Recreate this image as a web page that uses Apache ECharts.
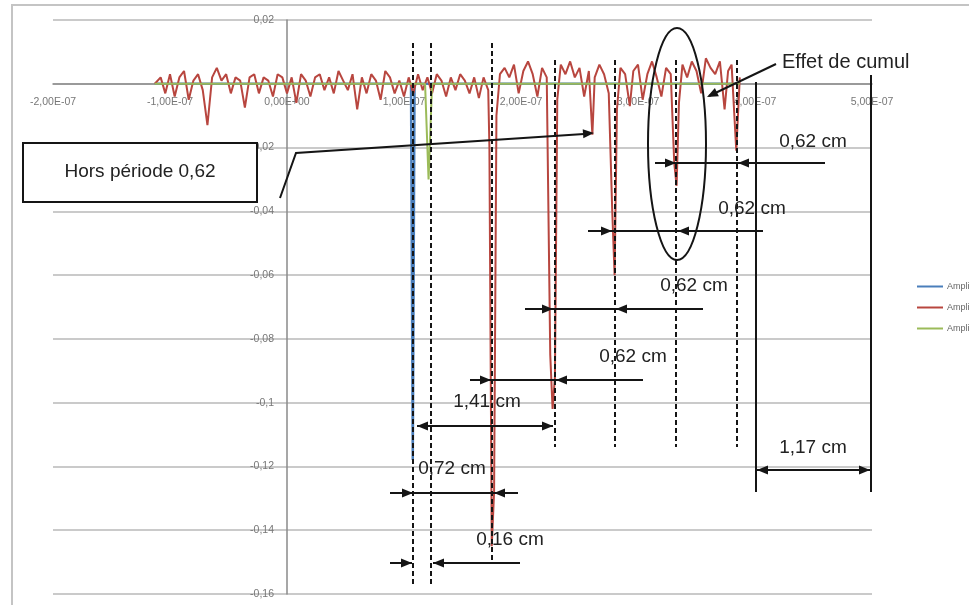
<!DOCTYPE html>
<html><head><meta charset="utf-8">
<script src="https://cdn.jsdelivr.net/npm/echarts@6/dist/echarts.min.js"></script>
<style>html,body{margin:0;padding:0;background:#fff}#c{width:969px;height:605px}</style>
</head><body><div id="c"></div>
<script>
// ---------- data (time in ns, amplitude in V) ----------
const seriesNames = ['Amplitude 1', 'Amplitude 2', 'Amplitude 3'];

const blueT = [-113, 106, 107.5, 109, 387];
const blueV = [0, 0, -0.118, 0, 0];

const redT = [-113,-108,-104,-100,-96,-92,-88,-84,-80,-76,-72,-68,-64,-60,-56,-52,-48,-44,-40,-36,-32,-28,-24,-20,-16,-12,-8,-4,
  0,4,8,12,16,20,24,28,32,36,40,44,48,52,56,60,64,68,72,76,80,84,88,92,96,100,104,108,112,116,120,124,128,132,136,140,144,148,152,156,160,164,168,172,
  173,175,177,179,182,186,190,194,198,202,206,210,214,218,222,225,227,229,231,234,238,242,246,250,254,258,261,263,267,271,275,278,280,282,285,289,293,296,300,
  304,308,312,316,320,324,328,331,333,335,338,342,346,350,354,358,362,366,370,374,377,380,384,387];
const redV = [0,0.002,-0.003,0.003,-0.004,0.002,0.004,-0.005,0.001,0.003,-0.002,-0.013,0.002,0.005,0.001,0.003,-0.003,0.002,0.001,-0.0075,0.002,0.003,-0.003,0.002,0.001,-0.004,0.003,0.002,
  -0.003,0.002,-0.006,0.003,0.001,-0.004,0.002,0.003,-0.002,0.002,-0.003,0.004,0.001,-0.002,0.003,-0.008,0.002,-0.003,0.003,0.001,-0.005,0.004,0.002,-0.003,0.001,-0.004,0.002,-0.003,0.003,-0.002,0.002,-0.003,0.003,0.001,-0.004,0.002,-0.002,0.003,0.001,-0.003,0.002,-0.0045,0.002,-0.002,
  -0.02,-0.145,-0.128,-0.01,0.003,0.005,0.002,0.006,-0.003,0.004,0.007,0.003,-0.004,0.005,0.002,-0.085,-0.102,-0.092,-0.005,0.006,0.003,0.007,0.002,0.005,-0.004,0.004,-0.016,0.002,0.006,0.003,-0.003,-0.04,-0.06,-0.008,0.005,0.003,-0.007,0.004,0.006,
  -0.005,0.003,0.007,0.002,-0.004,0.005,0.003,-0.025,-0.032,-0.006,0.006,0.002,0.007,0.004,-0.003,0.008,0.005,0.003,0.007,-0.008,0.004,0.006,-0.021,0.002];

const greenT = [-113, 118, 121, 124, 387];
const greenV = [0, 0, -0.030, 0, 0];

const yMin = -0.16, yMax = 0.02, yStep = 0.02;
const xMin = -2e-7, xMax = 5e-7, xStep = 1e-7;

function pts(T, V) { return T.map((t, i) => [t * 1e-9, V[i]]); }

// ---------- layout ----------
const W = 969, H = 605;
const GRID = { left: 53, right: 97, top: 20, bottom: 11 };
const gridW = W - GRID.left - GRID.right, gridH = H - GRID.top - GRID.bottom;
// axes cross at zero, as in the spreadsheet chart
const yAxisOffset = -((0 - xMin) / (xMax - xMin)) * gridW;
const xAxisOffset = -((0 - yMin) / (yMax - yMin)) * gridH;

// ---------- annotation overlay (hand-drawn shapes, pixel space) ----------
const INK = '#151515';
function seg(x1, y1, x2, y2, dash) {
  return { type: 'line', z: 100, silent: true, shape: { x1, y1, x2, y2 },
    style: { stroke: INK, lineWidth: 2, lineDash: dash ? [5, 3] : null } };
}
function head(tx, ty, dx, dy) {
  const n = Math.hypot(dx, dy); dx /= n; dy /= n;
  const L = 11, Wd = 4.5, bx = tx - dx * L, by = ty - dy * L, px = -dy, py = dx;
  return { type: 'polygon', z: 101, silent: true,
    shape: { points: [[tx, ty], [bx + px * Wd, by + py * Wd], [bx - px * Wd, by - py * Wd]] },
    style: { fill: INK } };
}
function label(t, x, y, size, align) {
  return { type: 'text', z: 102, silent: true, x, y,
    style: { text: t, font: (size || 19) + 'px "Liberation Sans", Arial, sans-serif', fill: '#222',
      align: align || 'center', verticalAlign: 'middle' } };
}
const dashedGuides = [[413, 43, 585], [431, 43, 585], [492, 43, 563], [555, 60, 447], [615, 60, 447], [676, 60, 447], [737, 60, 447]];
const solidGuides = [[756, 82, 492], [871, 75, 492]];
const dims = [
  [163, 655, 825, 676, 738],
  [231, 588, 763, 612, 678],
  [309, 525, 703, 553, 616],
  [380, 470, 643, 491, 556],
  [493, 390, 518, 413, 494]
];
const dimTexts = [
  ['0,62 cm', 813, 142], ['0,62 cm', 752, 209], ['0,62 cm', 694, 286], ['0,62 cm', 633, 357],
  ['1,41 cm', 487, 402], ['0,72 cm', 452, 469], ['0,16 cm', 510, 540], ['1,17 cm', 813, 448]
];

const g = [];
g.push({ type: 'rect', z: 0, silent: true, shape: { x: 12, y: 5, width: 1000, height: 700 },
  style: { fill: 'none', stroke: '#c4c4c4', lineWidth: 2 } });
dashedGuides.forEach(d => g.push(seg(d[0], d[1], d[0], d[2], true)));
solidGuides.forEach(d => g.push(seg(d[0], d[1], d[0], d[2], false)));
dims.forEach(d => {
  g.push(seg(d[1], d[0], d[2], d[0]));
  g.push(head(d[3], d[0], 1, 0));
  g.push(head(d[4], d[0], -1, 0));
});
g.push(seg(417, 426, 553, 426)); g.push(head(417, 426, -1, 0)); g.push(head(553, 426, 1, 0));
g.push(seg(756, 470, 871, 470)); g.push(head(757, 470, -1, 0)); g.push(head(870, 470, 1, 0));
g.push(seg(390, 563, 412, 563)); g.push(head(412, 563, 1, 0));
g.push(seg(433, 563, 520, 563)); g.push(head(433, 563, -1, 0));
dimTexts.forEach(t => g.push(label(t[0], t[1], t[2])));
g.push({ type: 'ellipse', z: 100, silent: true, shape: { cx: 677, cy: 144, rx: 29, ry: 116 },
  style: { fill: 'none', stroke: INK, lineWidth: 2 } });
g.push(seg(776, 64, 709, 96)); g.push(head(707, 97, -67, 33));
g.push(label('Effet de cumul', 782, 62, 20, 'left'));
g.push({ type: 'rect', z: 100, silent: true, shape: { x: 23, y: 143, width: 234, height: 59 },
  style: { fill: '#fff', stroke: INK, lineWidth: 2 } });
g.push(label('Hors période 0,62', 140, 172, 19));
g.push({ type: 'polyline', z: 100, silent: true, shape: { points: [[280, 198], [296, 153], [584, 134]] },
  style: { stroke: INK, lineWidth: 2, fill: 'none' } });
g.push(head(594, 133, 298, -20));

// ---------- chart ----------
const chart = echarts.init(document.getElementById('c'));
function fmtX(v) {
  if (Math.abs(v) < 1e-15) return '0,00E+00';
  const s = v.toExponential(2);
  const [m, e] = s.split('e');
  const n = parseInt(e, 10);
  return m.replace('.', ',') + 'E' + (n < 0 ? '-' : '+') + String(Math.abs(n)).padStart(2, '0');
}
function fmtY(v) {
  if (Math.abs(v) < 1e-12) return '';
  return String(Math.round(v * 1000) / 1000).replace('.', ',');
}
chart.setOption({
  backgroundColor: '#fff',
  animation: false,
  grid: { left: GRID.left, right: GRID.right, top: GRID.top, bottom: GRID.bottom, containLabel: false, outerBoundsMode: 'none' },
  legend: {
    orient: 'vertical', left: 912, top: 277, itemGap: 12, itemWidth: 26, itemHeight: 2, icon: 'rect',
    textStyle: { color: '#666', fontSize: 9, fontFamily: 'Liberation Sans', padding: [0, 0, 0, -1] },
    data: seriesNames
  },
  xAxis: {
    type: 'value', min: xMin, max: xMax, interval: xStep, position: 'bottom', offset: xAxisOffset,
    axisLine: { onZero: false, lineStyle: { color: '#8a8a8a', width: 1.5 } },
    axisTick: { show: false },
    splitLine: { show: false },
    axisLabel: { formatter: fmtX, color: '#777', fontSize: 10.5, fontFamily: 'Liberation Sans', margin: 13 }
  },
  yAxis: {
    type: 'value', min: yMin, max: yMax, interval: yStep, position: 'left', offset: yAxisOffset,
    axisLine: { show: true, onZero: false, lineStyle: { color: '#8a8a8a', width: 1.5 } },
    axisTick: { show: false },
    splitLine: { show: true, lineStyle: { color: '#b8b8b8', width: 1.5 } },
    axisLabel: { formatter: fmtY, color: '#777', fontSize: 10.5, fontFamily: 'Liberation Sans', margin: 13 }
  },
  series: [
    { name: seriesNames[0], type: 'line', data: pts(blueT, blueV), symbol: 'none',
      lineStyle: { color: '#4a7ebb', width: 2.5 }, itemStyle: { color: '#4a7ebb' } },
    { name: seriesNames[1], type: 'line', data: pts(redT, redV), symbol: 'none',
      lineStyle: { color: '#b8463f', width: 2 }, itemStyle: { color: '#b8463f' } },
    { name: seriesNames[2], type: 'line', data: pts(greenT, greenV), symbol: 'none',
      lineStyle: { color: '#9bbb59', width: 2 }, itemStyle: { color: '#9bbb59' } }
  ],
  graphic: g
});
</script>
</body></html>
